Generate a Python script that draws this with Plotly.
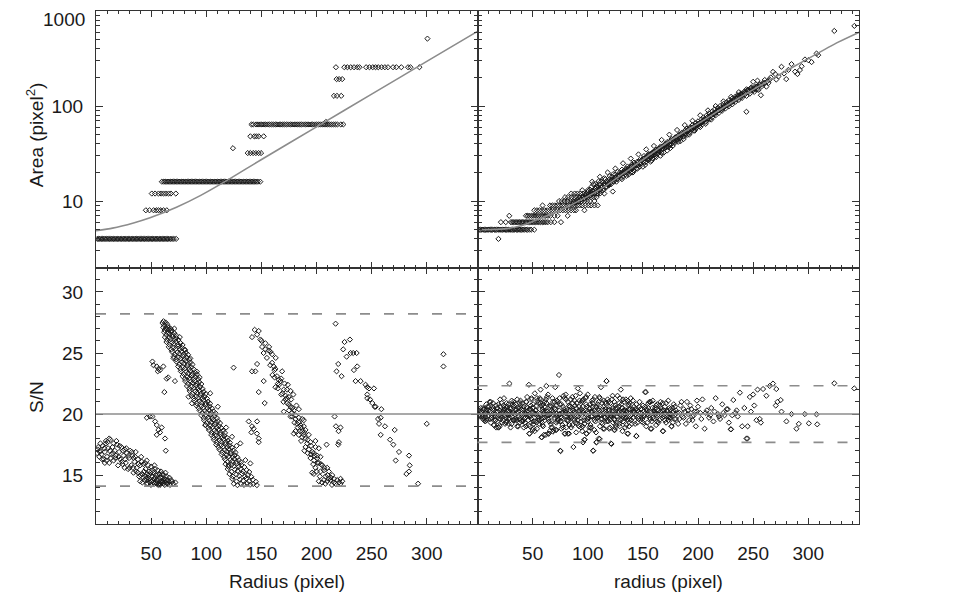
import plotly.graph_objects as go
from plotly.subplots import make_subplots

# ---------------- top-left: Area vs Radius (pixel areas come in steps)
TL_LEVELS = [4, 8, 12, 16, 32, 48, 64, 128, 192, 256]
TL_R_AT_4 = [1.2, 2.5, 3.6, 4.9, 6.1, 7.3, 8.4, 9.8, 11.0, 12.2, 13.5, 14.6, 15.9, 17.1, 18.3,
             19.6, 20.7, 22.0, 23.2, 24.5, 25.6, 26.9, 28.1, 29.4, 30.5, 31.8, 33.0, 34.3, 35.5,
             36.6, 37.9, 39.1, 40.4, 41.5, 42.8, 44.0, 45.3, 46.4, 47.7, 48.9, 50.2, 51.3, 52.6,
             53.8, 55.1, 56.2, 57.5, 58.7, 60.0, 61.1, 62.4, 63.6, 64.8, 66.1, 67.5, 69.0, 70.6, 72.7]
TL_R_AT_8 = [45.2, 48.5, 52.2, 54.6, 56.7, 58.8, 61.2, 64.2]
TL_R_AT_12 = [50.6, 53.6, 56.7, 59.1, 61.2, 63.3, 65.8, 67.9, 72.4]
TL_R_AT_16 = [59.7, 61.5, 62.8, 64.0, 65.3, 66.5, 67.8, 69.0, 70.3, 71.5, 72.8, 74.0, 75.3, 76.5,
              77.8, 79.0, 80.3, 81.5, 82.8, 84.0, 85.3, 86.5, 87.8, 89.0, 90.3, 91.5, 92.8, 94.0,
              95.3, 96.5, 97.8, 99.0, 100.3, 101.5, 102.8, 104.0, 105.3, 106.5, 107.8, 109.0, 110.3,
              111.5, 112.8, 114.0, 115.3, 116.5, 117.8, 119.0, 120.3, 121.5, 122.8, 124.0, 125.3,
              126.5, 127.8, 129.0, 130.3, 131.5, 132.8, 134.0, 135.3, 136.5, 137.8, 139.0, 140.3,
              141.5, 142.8, 144.0, 145.3, 146.8, 149.0]
TL_R_AT_32 = [137.6, 140.0, 142.5, 145.0, 147.5, 149.7]
TL_R_AT_48 = [140.0, 143.6, 145.5, 147.6, 152.1]
TL_R_AT_64 = [141.0, 142.6, 145.2, 147.0, 148.9, 150.5, 152.3, 154.0, 155.8, 157.4, 159.1, 160.9,
              162.6, 164.2, 166.0, 167.7, 169.3, 171.1, 172.8, 174.5, 176.2, 177.9, 179.6, 181.3,
              183.0, 184.8, 186.4, 188.1, 189.9, 191.5, 193.2, 195.0, 196.6, 198.3, 200.1, 201.8,
              203.4, 205.2, 206.9, 208.5, 210.2, 212.0, 213.6, 215.3, 217.1, 219.0, 222.0, 224.3]
TL_R_AT_128 = [215.8, 218.5, 222.4]
TL_R_AT_192 = [218.2, 220.5, 223.3]
TL_R_AT_256 = [217.6, 225.2, 228.0, 231.0, 234.0, 237.0, 239.0, 245.0, 248.0, 251.0, 253.5,
               256.0, 259.0, 262.0, 264.8, 269.4, 272.4, 276.9, 283.0, 285.2, 293.3]
TL_ODD_R = [124.2, 208.5, 300.6]
TL_ODD_A = [36, 68, 512]
TL_FIT_R = [0, 15, 34, 49, 73, 95, 120, 149, 200, 250, 300, 346]
TL_FIT_A = [4.88, 5.19, 5.89, 6.68, 8.61, 11.48, 16.79, 26.9, 60.3, 133.4, 295, 611]

# ---------------- top-right: area vs radius after correction
TR_LEVELS = [5, 6, 7, 8, 9, 10, 11, 12]
TR_R_AT_5 = [1.5, 2.8, 4.1, 5.0, 6.3, 7.4, 8.2, 9.6, 10.5, 11.9, 12.7, 13.8, 15.2, 16.0, 17.3,
             18.5, 19.4, 20.8, 21.6, 22.9, 24.0, 25.3, 26.1, 27.5, 28.4, 29.7, 30.6, 31.8, 33.1,
             34.0, 35.4, 36.3, 37.7, 38.6, 40.0, 41.2, 42.5, 44.0, 45.3, 47.1, 48.6, 51.5]
TR_R_AT_6 = [21.2, 25.6, 30.3, 31.5, 32.9, 34.2, 35.6, 36.8, 38.1, 39.5, 40.7, 42.0, 43.4, 44.6,
             45.9, 47.3, 48.5, 50.0, 51.2, 52.6, 54.0, 55.5, 57.0, 58.8, 60.3, 62.0, 63.8, 66.5,
             69.7, 75.7]
TR_R_AT_7 = [28.8, 44.0, 45.6, 47.2, 48.9, 50.5, 52.1, 53.8, 55.4, 57.1, 58.7, 60.4, 62.0, 63.9,
             66.2, 69.7, 72.7, 81.8]
TR_R_AT_8 = [51.5, 53.9, 56.2, 58.5, 60.9, 63.2, 65.6, 67.9, 70.3, 72.6, 75.0, 77.4, 79.8, 82.3,
             84.9, 87.4, 89.3, 97.0]
TR_R_AT_9 = [59.0, 65.8, 67.9, 70.1, 72.4, 74.6, 76.9, 79.1, 81.4, 83.6, 85.9, 88.1, 90.4, 92.6,
             94.9, 97.8, 100.6, 103.0, 106.0, 109.0]
TR_R_AT_10 = [74.0, 76.5, 79.0, 81.6, 84.1, 86.7, 89.2, 91.8, 94.3, 96.9, 99.4, 102.0, 106.0]
TR_R_AT_11 = [79.4, 82.0, 85.1, 87.6, 90.2, 92.7, 95.3, 97.8, 100.4, 102.9, 105.6, 108.0]
TR_R_AT_12 = [85.0, 88.1, 90.6, 93.2, 95.7, 98.3, 100.8, 103.4, 106.0, 108.5, 111.1, 115.0]
TR_BAND = [(95, 13), (100, 13), (103, 14), (106, 13), (107, 15), (108, 14), (110, 13), (111, 15),
           (112, 16), (113, 14), (115, 15), (116, 17), (117, 14), (118, 16), (120, 17), (121, 15),
           (122, 18), (124, 17), (125, 19), (126, 16), (128, 18), (129, 20), (130, 19), (131, 17),
           (133, 21), (134, 19), (135, 22), (136, 20), (138, 21), (139, 23), (140, 22), (141, 20),
           (143, 24), (144, 22), (145, 26), (146, 24), (148, 25), (149, 27), (150, 23), (151, 28),
           (153, 26), (154, 29), (155, 27), (156, 31), (158, 30), (159, 28), (160, 33), (161, 31),
           (163, 34), (164, 32), (165, 36), (166, 30), (168, 35), (169, 38), (170, 36), (171, 40),
           (173, 37), (174, 42), (175, 39), (176, 45), (178, 43), (179, 41), (180, 47), (181, 44),
           (183, 50), (184, 46), (185, 52), (186, 48), (188, 55), (189, 51), (190, 58), (191, 54),
           (193, 60), (194, 56), (195, 63), (196, 59), (198, 66), (199, 62), (200, 69), (201, 64),
           (203, 72), (204, 68), (205, 76), (206, 71), (208, 80), (209, 74), (210, 84), (211, 78),
           (213, 88), (214, 82), (215, 92), (216, 86), (218, 96), (219, 90), (220, 100), (222, 94),
           (223, 105), (224, 98), (226, 110), (227, 102), (228, 115), (230, 108), (231, 120),
           (232, 112), (234, 126), (235, 118), (236, 130), (238, 122), (239, 136), (240, 128),
           (242, 142), (243, 134), (245, 148), (246, 140), (248, 155), (250, 146), (252, 160),
           (254, 150), (256, 170), (258, 162),
           (109, 12), (114, 13), (119, 15), (123, 16), (127, 17), (132, 18), (137, 19), (142, 21),
           (147, 23), (152, 24), (157, 26), (162, 29), (167, 32), (172, 34), (177, 38), (182, 42),
           (187, 45), (192, 50), (197, 55), (202, 60), (207, 65), (212, 72),
           (104, 16), (111, 18), (118, 20), (125, 22), (132, 25), (139, 28), (146, 31), (153, 35),
           (160, 38), (167, 44), (174, 50), (181, 56), (188, 63), (195, 70), (202, 80), (209, 90),
           (216, 100), (223, 112), (230, 125), (237, 140), (244, 150)]
TR_CORE = [(86, 9.4), (87, 9.8), (89, 9.6), (91, 10.3), (92, 9.9), (93, 10.8), (94, 10.4), (96, 11.1),
           (97, 10.7), (98, 11.6), (99, 11.0), (101, 11.8), (102, 11.4), (103, 12.3), (104, 11.9),
           (105, 12.6), (106, 12.1), (108, 13.0), (109, 12.6), (110, 13.6), (111, 13.1), (113, 14.1),
           (114, 13.5), (115, 14.6), (116, 14.0), (118, 15.2), (119, 14.6), (120, 15.9), (121, 16.4),
           (123, 16.9), (124, 16.2), (126, 17.8), (127, 17.2), (129, 18.6), (130, 19.4), (132, 19.9),
           (133, 20.6), (134, 20.1), (136, 21.4), (137, 22.2), (138, 20.8), (140, 23.0), (141, 23.8),
           (143, 24.6), (144, 23.9), (146, 25.8), (147, 25.2), (149, 26.9), (150, 27.8), (152, 28.6),
           (153, 27.9), (155, 30.0), (156, 29.2), (157, 31.0), (158, 31.8), (160, 32.9), (161, 32.2),
           (163, 34.6), (164, 33.8), (165, 35.7), (167, 36.9), (168, 36.1), (170, 38.8), (171, 38.0),
           (173, 40.7), (174, 39.8), (175, 42.5), (177, 44.1), (178, 43.0), (180, 46.2), (181, 45.3),
           (183, 48.5), (184, 47.3), (185, 50.0), (187, 52.1), (188, 51.0), (190, 54.6), (191, 55.8),
           (193, 57.7), (194, 56.5), (196, 60.6), (197, 59.5), (199, 63.4), (200, 64.9), (202, 67.1),
           (203, 66.0), (205, 70.4), (206, 72.2), (208, 74.9), (209, 73.7), (211, 78.5), (212, 80.4),
           (214, 83.2), (215, 81.7), (217, 87.3), (218, 89.5), (220, 92.0), (221, 90.6), (223, 96.8),
           (224, 99.1), (226, 102), (227, 105), (229, 108), (230, 111), (232, 114), (233, 117),
           (235, 121), (236, 124), (238, 127), (240, 131), (241, 134), (243, 138), (245, 143),
           (246, 146), (248, 151), (250, 149), (252, 156), (254, 162), (256, 166), (258, 170),
           (260, 176), (263, 183), (265, 190),
           (100, 12.5), (102, 13.2), (104, 12.8), (105, 15.1), (107, 13.6), (109, 14.4), (110, 16.2),
           (112, 13.9), (114, 15.8), (115, 17.4), (117, 16.1), (119, 14.9), (120, 18.3), (122, 16.6),
           (123, 19.2), (125, 17.6), (127, 20.3), (128, 18.7), (130, 17.5), (131, 21.4), (133, 19.6),
           (135, 18.4), (136, 23.1), (137, 21.2), (139, 19.9), (140, 24.3), (141, 22.6), (142, 25.4),
           (144, 23.6), (145, 21.9), (147, 27.0), (148, 24.7), (150, 26.1), (151, 29.8), (152, 25.6),
           (154, 27.6), (155, 31.2), (157, 28.9), (158, 26.7), (159, 32.6), (161, 29.6), (162, 34.8),
           (163, 31.3), (165, 33.2), (166, 37.5), (167, 34.6), (169, 32.4), (170, 39.6), (171, 36.8),
           (172, 41.8), (174, 38.9), (175, 36.2), (176, 43.4), (177, 40.7), (179, 46.5), (180, 43.2),
           (182, 48.8), (183, 45.1), (184, 42.6), (186, 51.3), (187, 47.8), (189, 53.9), (190, 49.6),
           (191, 56.4), (193, 52.7), (194, 58.9), (196, 55.3), (197, 61.8), (198, 57.9), (200, 64.4),
           (201, 61.3), (203, 67.8), (204, 64.1), (206, 73.5), (207, 68.6), (209, 77.2), (210, 71.8),
           (212, 80.6), (213, 76.3), (215, 85.4), (216, 79.9), (218, 90.2), (219, 84.7), (221, 95.8),
           (222, 89.6), (224, 101), (225, 94.6), (227, 106), (228, 99.3), (230, 113), (231, 104),
           (233, 119), (234, 111), (236, 125), (237, 116), (239, 132), (240, 122), (242, 138),
           (244, 128), (245, 145), (247, 135), (249, 150), (251, 141), (253, 158), (255, 148)]
TR_SPARSE = [(19, 4), (122.7, 12.6), (243.9, 87), (257, 130), (248.4, 157), (252.4, 150), (253.9, 185),
             (250, 180), (260.5, 188), (260, 172), (262, 160), (264, 175), (266, 200), (268, 229),
             (270, 217), (271, 190), (273, 205), (275.7, 259), (278, 220), (280, 192), (282, 240),
             (284.8, 276), (288, 230), (290.2, 217), (292.4, 239), (294, 262), (297, 309),
             (300, 304), (303, 290), (307.5, 357), (309, 343), (323.6, 617), (341.8, 697)]
TR_FIT_R = [1.5, 24.2, 39.4, 54.5, 69.7, 84.8, 100.0, 115.1, 145.4, 175.7, 206.0, 236.3, 266.6,
            297.0, 327.2, 346.9]
TR_FIT_A = [5.0, 5.1, 5.5, 6.4, 7.5, 9.1, 11.2, 14.2, 25, 44, 72, 120, 192, 302, 470, 603]

# ---------------- bottom-left: S/N vs Radius
BL_MEAN = 20.0
BL_LIMITS = [28.2, 14.1]
BL_BAND_A = [(1, 16.8), (2, 17.3), (3, 16.5), (4, 17.0), (5, 16.7), (6, 17.4), (7, 16.3), (8, 16.9),
             (9, 17.6), (10, 16.5), (11, 17.2), (12, 16.0), (13, 17.9), (14, 16.7), (15, 17.3),
             (16, 16.2), (17, 17.0), (18, 16.6), (19, 17.5), (20, 15.8), (21, 16.9), (22, 16.3),
             (23, 17.3), (24, 15.9), (25, 16.6), (26, 17.1), (27, 16.0), (28, 16.8), (29, 15.5),
             (30, 16.4), (31, 17.0), (32, 15.8), (33, 16.6), (34, 15.2), (35, 16.1), (36, 16.9),
             (37, 15.6), (38, 16.3), (39, 14.9), (40, 15.8), (41, 16.5), (42, 15.1), (43, 15.9),
             (44, 14.6), (45, 15.5), (46, 16.2), (47, 14.8), (48, 15.3), (49, 14.4), (50, 15.7),
             (51, 14.9), (52, 15.2), (53, 14.3), (54, 15.0), (55, 14.6), (56, 15.4), (57, 14.3),
             (58, 14.8), (59, 14.5), (60, 15.1), (61, 14.3), (62, 14.7), (63, 14.4), (64, 14.9),
             (65, 14.3), (66, 14.5), (67, 14.2), (68, 14.6), (70, 14.3), (72, 14.4),
             (1.5, 17.1), (3.5, 16.9), (5.5, 16.3), (7.5, 17.2), (9.5, 16.2), (10.5, 17.7),
             (12.5, 17.0), (13.5, 16.4), (15.5, 16.8), (17.5, 16.4), (18.5, 17.8), (20.5, 16.5),
             (21.5, 17.4), (23.5, 16.1), (24.5, 17.0), (26.5, 16.3), (27.5, 17.2), (29.5, 16.6),
             (30.5, 15.6), (32.5, 16.9), (33.5, 15.6), (35.5, 16.5), (36.5, 15.3), (38.5, 15.9),
             (40.5, 15.0), (41.5, 16.1), (43.5, 15.3), (44.5, 16.0), (45.5, 14.7), (46.5, 15.1),
             (47.5, 15.8), (48.5, 14.7), (49.5, 15.2), (50.5, 14.5), (51.5, 15.4), (52.5, 14.7),
             (53.5, 15.5), (54.5, 14.4), (55.5, 15.0), (56.5, 14.2), (57.5, 15.1), (58.5, 14.3),
             (59.5, 14.8), (60.5, 14.5), (61.5, 15.0), (62.5, 14.2), (63.5, 14.6), (64.5, 14.3),
             (66.5, 14.8), (69, 14.5), (42, 14.4), (46, 14.3), (50, 14.2), (54, 14.8), (38, 15.2),
             (34, 16.4), (26, 15.6), (16, 17.6), (8, 16.0), (4, 17.6), (12, 18.0), (9, 17.8),
             (40, 14.5), (43, 14.8), (47, 14.3), (51, 14.6), (53, 15.8), (55, 14.3), (57, 14.7),
             (59, 15.3), (61, 14.6), (63, 15.2), (65, 14.6), (45, 14.9), (48, 15.0), (52, 14.4),
             (58, 14.2), (60, 14.4)]
BL_BAND_B_EDGE = [(61.2, 27.6), (71.1, 27.0), (80.9, 25.25), (85.5, 24.56), (91.5, 23.47), (83.9, 21.42),
                  (87.0, 20.88), (123.4, 18.14), (130.9, 17.6), (135.5, 16.23), (140.0, 15.96),
                  (120.3, 15.82), (70.3, 24.56), (103.6, 21.7), (94.0, 23.0), (110.5, 20.6),
                  (118.0, 18.9), (99.0, 19.1), (76.0, 26.3), (127.5, 17.4)]
BL_BAND_B_WIDE = [
    (60.3, 27.45), (61.8, 27.3), (63.1, 27.5), (64.6, 27.35),
    (61.0, 27.1), (62.2, 26.88), (63.4, 27.05), (64.4, 26.94), (65.4, 27.13), (66.4, 26.9), (67.4, 27.02),
    (68.6, 26.86),
    (61.8, 26.7), (63.7, 26.48), (65.35, 26.65), (66.7, 26.54), (68.1, 26.73), (69.5, 26.5), (71.1, 26.62),
    (72.5, 26.46),
    (62.5, 26.3), (64.45, 26.08), (66.4, 26.25), (68.0, 26.14), (69.65, 26.33), (71.3, 26.1), (72.9, 26.22),
    (74.85, 26.06),
    (63.9, 25.9), (66.5, 25.68), (68.75, 25.85), (70.6, 25.74), (72.5, 25.93), (74.4, 25.7), (76.6, 25.82),
    (78.5, 25.66),
    (66.0, 25.5), (68.25, 25.28), (70.5, 25.45), (72.4, 25.34), (74.25, 25.53), (76.1, 25.3), (78.0, 25.42),
    (80.25, 25.26),
    (68.9, 25.1), (71.5, 24.88), (73.75, 25.05), (75.6, 24.94), (77.5, 25.13), (79.4, 24.9), (81.6, 25.02),
    (83.5, 24.86),
    (70.5, 24.7), (72.75, 24.48), (75.0, 24.65), (76.9, 24.54), (78.75, 24.73), (80.6, 24.5), (82.5, 24.62),
    (84.75, 24.46),
    (72.9, 24.3), (75.5, 24.08), (77.75, 24.25), (79.6, 24.14), (81.5, 24.33), (83.4, 24.1), (85.6, 24.22),
    (87.5, 24.06),
    (74.5, 23.9), (76.75, 23.68), (79.0, 23.85), (80.9, 23.74), (82.75, 23.93), (84.6, 23.7), (86.5, 23.82),
    (88.75, 23.66),
    (76.9, 23.5), (79.5, 23.28), (81.75, 23.45), (83.6, 23.34), (85.5, 23.53), (87.4, 23.3), (89.6, 23.42),
    (91.5, 23.26),
    (78.5, 23.1), (80.75, 22.88), (83.0, 23.05), (84.9, 22.94), (86.75, 23.13), (88.6, 22.9), (90.5, 23.02),
    (92.75, 22.86),
    (80.9, 22.7), (83.5, 22.48), (85.75, 22.65), (87.6, 22.54), (89.5, 22.73), (91.4, 22.5), (93.6, 22.62),
    (95.5, 22.46),
    (82.5, 22.3), (84.75, 22.08), (87.0, 22.25), (88.9, 22.14), (90.75, 22.33), (92.6, 22.1), (94.5, 22.22),
    (96.75, 22.06),
    (84.9, 21.9), (87.5, 21.68), (89.75, 21.85), (91.6, 21.74), (93.5, 21.93), (95.4, 21.7), (97.6, 21.82),
    (99.5, 21.66),
    (86.5, 21.5), (88.75, 21.28), (91.0, 21.45), (92.9, 21.34), (94.75, 21.53), (96.6, 21.3), (98.5, 21.42),
    (100.75, 21.26),
    (88.9, 21.1), (91.5, 20.88), (93.75, 21.05), (95.6, 20.94), (97.5, 21.13), (99.4, 20.9), (101.6, 21.02),
    (103.5, 20.86),
    (91.0, 20.7), (93.25, 20.48), (95.5, 20.65), (97.4, 20.54), (99.25, 20.73), (101.1, 20.5), (103.0, 20.62),
    (105.25, 20.46),
    (93.9, 20.3), (96.5, 20.08), (98.75, 20.25), (100.6, 20.14), (102.5, 20.33), (104.4, 20.1), (106.6, 20.22),
    (108.5, 20.06),
    (95.5, 19.9), (97.75, 19.68), (100.0, 19.85), (101.9, 19.74), (103.75, 19.93), (105.6, 19.7), (107.5, 19.82),
    (109.75, 19.66),
    (97.9, 19.5), (100.5, 19.28), (102.75, 19.45), (104.6, 19.34), (106.5, 19.53), (108.4, 19.3), (110.6, 19.42),
    (112.5, 19.26),
    (99.5, 19.1), (101.75, 18.88), (104.0, 19.05), (105.9, 18.94), (107.75, 19.13), (109.6, 18.9), (111.5, 19.02),
    (113.75, 18.86),
    (102.4, 18.7), (105.0, 18.48), (107.25, 18.65), (109.1, 18.54), (111.0, 18.73), (112.9, 18.5), (115.1, 18.62),
    (117.0, 18.46),
    (104.5, 18.3), (106.75, 18.08), (109.0, 18.25), (110.9, 18.14), (112.75, 18.33), (114.6, 18.1), (116.5, 18.22),
    (118.75, 18.06),
    (106.9, 17.9), (109.5, 17.68), (111.75, 17.85), (113.6, 17.74), (115.5, 17.93), (117.4, 17.7), (119.6, 17.82),
    (121.5, 17.66),
    (109.0, 17.5), (111.25, 17.28), (113.5, 17.45), (115.4, 17.34), (117.25, 17.53), (119.1, 17.3), (121.0, 17.42),
    (123.25, 17.26),
    (111.9, 17.1), (114.5, 16.88), (116.75, 17.05), (118.6, 16.94), (120.5, 17.13), (122.4, 16.9), (124.6, 17.02),
    (126.5, 16.86),
    (114.0, 16.7), (116.25, 16.48), (118.5, 16.65), (120.4, 16.54), (122.25, 16.73), (124.1, 16.5), (126.0, 16.62),
    (128.25, 16.46),
    (116.9, 16.3), (119.5, 16.08), (121.75, 16.25), (123.6, 16.14), (125.5, 16.33), (127.4, 16.1), (129.6, 16.22),
    (131.5, 16.06),
    (117.5, 15.9), (120.2, 15.68), (122.9, 15.85), (125.15, 15.74), (127.4, 15.93), (129.65, 15.7), (131.9, 15.82),
    (134.6, 15.66),
    (119.5, 15.5), (123.0, 15.28), (126.0, 15.45), (128.5, 15.34), (131.0, 15.53), (133.5, 15.3), (136.5, 15.42),
    (139.0, 15.26),
    (121.0, 15.1), (124.15, 14.88), (127.3, 15.05), (129.9, 14.94), (132.55, 15.13), (135.2, 14.9), (137.8, 15.02),
    (140.95, 14.86),
    (123.55, 14.7), (127.4, 14.48), (130.7, 14.65), (133.45, 14.54), (136.2, 14.73), (138.95, 14.5),
    (142.25, 14.62), (145.0, 14.46),
    (125.0, 14.3), (128.3, 14.18), (131.6, 14.28), (134.35, 14.2), (137.1, 14.32), (139.85, 14.22),
    (142.6, 14.27), (145.9, 14.18)]
BL_BAND_F = [(158.2, 25.1), (159.7, 24.2), (161.2, 23.9), (161.8, 23.6), (162.7, 23.7), (164.2, 23.1),
             (165.8, 22.8), (167.3, 22.7), (168.8, 23.5), (162.7, 22.2), (164.9, 22.1), (170.3, 22.0),
             (173.3, 22.0), (176.4, 21.9), (174.9, 21.4), (171.8, 21.2), (173.3, 20.9), (176.4, 20.6),
             (179.4, 20.3), (181.8, 20.7), (170.3, 20.2), (177.9, 20.1), (176.4, 19.8), (180.9, 19.6),
             (183.9, 19.7), (187.0, 19.6), (188.5, 19.5), (182.4, 19.2), (185.5, 19.1), (188.5, 19.0),
             (190.0, 18.7), (180.9, 18.6), (179.4, 18.4), (183.9, 18.3), (187.0, 18.1), (188.5, 18.3),
             (190.0, 18.0), (191.5, 17.6), (194.5, 17.7), (199.1, 17.3), (202.1, 17.2), (193.0, 17.1),
             (196.1, 16.9), (197.6, 16.8), (200.6, 16.6), (194.5, 16.4), (197.6, 16.2), (200.6, 16.4),
             (203.6, 16.5), (202.1, 16.0), (205.2, 15.8), (199.1, 15.6), (206.7, 15.4), (209.7, 15.6),
             (203.6, 15.3), (211.2, 15.3), (197.6, 15.1), (214.2, 15.0), (208.2, 14.9), (206.7, 14.6),
             (209.7, 14.5), (212.7, 14.6), (215.8, 14.4), (218.8, 14.6), (220.3, 14.4), (221.8, 14.3),
             (223.3, 14.5), (202.1, 14.5), (215.8, 14.7), (221.8, 14.7),
             (141.5, 26.3), (143.9, 26.9), (147.6, 26.8), (146.1, 26.5), (149.1, 26.1), (150.6, 25.5),
             (153.6, 25.3), (156.7, 25.2), (153.6, 25.8), (159.7, 24.9), (152.1, 22.7), (147.6, 21.8),
             (153.0, 20.9), (141.5, 23.5), (144.5, 23.5), (146.1, 24.1), (124.8, 23.8),
             (166, 22.4), (169, 21.7), (172, 21.5), (175, 20.8), (178, 20.5), (181, 19.9), (184, 19.3),
             (186, 18.9), (189, 18.5), (192, 17.9), (195, 17.4), (198, 16.6), (201, 16.0), (204, 15.9),
             (207, 15.6), (210, 15.0), (213, 14.8), (217, 14.3), (177, 21.2), (171, 22.5), (163, 24.6),
             (157, 25.5),
             (150, 26.0), (152, 25.0), (155, 24.6), (158, 24.0), (160, 23.2), (162, 23.0), (165, 22.5),
             (168, 21.6), (170, 21.0), (173, 21.3), (175, 20.3), (178, 19.8), (180, 19.3), (183, 18.9),
             (185, 18.6), (187, 18.6), (190, 17.3), (192, 16.8), (195, 16.7), (197, 15.9), (200, 15.3),
             (203, 14.9), (205, 14.4), (208, 14.3), (211, 14.7), (214, 14.2), (184, 20.4), (186, 17.8),
             (189, 17.0), (196, 15.2), (174, 22.4), (179, 21.6), (168, 22.9), (193, 18.3), (199, 17.8)]
BL_SPARSE = [(51.2, 24.3), (52.1, 24.0), (55.1, 23.9), (56.6, 23.7), (58.1, 23.6), (61.1, 23.9),
             (64.1, 22.9), (65.5, 23.0), (71.6, 22.7), (62.0, 21.8), (56.0, 23.5),
             (46.1, 19.7), (49.1, 19.8), (51.2, 19.8), (53.6, 19.4), (55.1, 19.1), (56.6, 18.7),
             (55.1, 18.3), (58.1, 18.5), (59.6, 18.9), (62.6, 18.0), (63.3, 17.0),
             (138.5, 19.4), (141.5, 19.0), (140.9, 18.5), (147.6, 18.0), (146.1, 19.4), (143.0, 18.8),
             (146.0, 18.4), (147.6, 17.7),
             (217.3, 27.4), (225.4, 25.9), (230.3, 26.1), (224.2, 25.3), (227.3, 24.7), (230.9, 25.0),
             (233.3, 25.0), (236.4, 25.0), (233.9, 23.6), (236.9, 23.9), (219.7, 24.1), (218.2, 23.5),
             (222.7, 23.1), (235.4, 22.7), (240.0, 22.7), (244.5, 22.4), (246.0, 22.2), (247.6, 22.1),
             (252.1, 22.1), (246.0, 21.6), (246.0, 21.3), (248.5, 21.2), (250.6, 20.9), (252.7, 20.6),
             (253.6, 20.6), (258.8, 20.4), (258.2, 19.7), (255.8, 19.6), (256.7, 19.2), (262.1, 19.0),
             (270.9, 18.7), (258.2, 18.3), (266.7, 17.9), (269.7, 17.5), (274.8, 16.9), (271.8, 16.2),
             (283.9, 16.6), (284.5, 15.8), (283.9, 15.3), (281.5, 15.1), (292.1, 14.3), (300.0, 19.2),
             (315.1, 24.9), (315.1, 23.9), (216.4, 19.8), (217.6, 19.0), (221.8, 18.9), (220.0, 18.6),
             (220.3, 17.7), (219.7, 17.5), (209.1, 17.5)]

# ---------------- bottom-right: S/N vs radius after correction
BR_MEAN = 20.0
BR_LIMITS = [22.32, 17.68]
BR_CORE = [(1, 20.3), (2, 19.8), (3, 20.5), (4, 20.0), (5, 19.6), (6, 20.4), (7, 20.1), (8, 19.5),
           (9, 20.6), (10, 19.9), (11, 20.2), (12, 21.0), (13, 19.7), (14, 20.4), (15, 19.1), (16, 20.0),
           (17, 20.7), (18, 19.4), (19, 18.9), (20, 20.3), (21, 19.8), (22, 20.9), (23, 19.5), (24, 20.1),
           (25, 20.6), (26, 19.3), (27, 20.0), (28, 20.8), (29, 19.7), (30, 20.4), (31, 19.2), (32, 20.1),
           (33, 20.7), (34, 19.6), (35, 20.3), (36, 19.0), (37, 20.5), (38, 19.8), (39, 21.1), (40, 20.0),
           (1.5, 19.9), (3.5, 20.2), (6.5, 19.7), (8.5, 20.4), (11.5, 19.6), (13.5, 20.6), (16.5, 19.5),
           (18.5, 20.2), (20.5, 21.2), (22.5, 19.3), (24.5, 20.4), (26.5, 20.9), (28.5, 19.2), (30.5, 20.0),
           (32.5, 19.5), (34.5, 20.8), (36.5, 20.2), (38.5, 19.3),
           (41, 19.4), (42, 20.6), (43, 20.1), (44, 19.0), (45, 21.4), (46, 20.3), (47, 18.4), (48, 19.8),
           (49, 21.3), (50, 20.5), (51, 19.2), (52, 21.7), (53, 20.0), (54, 18.8), (55, 20.9), (56, 19.5),
           (57, 21.2), (58, 18.1), (59, 20.4), (60, 19.7), (61, 21.0), (62, 18.3), (63, 20.2), (64, 21.6),
           (65, 19.4), (66, 20.7), (67, 18.9), (68, 21.3), (69, 19.9), (70, 20.5), (71, 18.7), (72, 21.1),
           (73, 19.6), (74, 20.3), (75, 17.0), (76, 20.8), (77, 19.1), (78, 21.5), (79, 18.4), (80, 20.1),
           (81, 19.5), (82, 21.0), (83, 18.4), (84, 20.6), (85, 19.8), (86, 21.4), (87, 17.3), (88, 20.2),
           (89, 19.3), (90, 20.9), (91, 22.1), (92, 19.0), (93, 21.7), (94, 20.4), (95, 18.6), (96, 21.2),
           (97, 17.9), (98, 20.0), (99, 18.4), (100, 21.6), (101, 19.7), (102, 20.5), (103, 18.9),
           (104, 21.1), (105, 17.0), (106, 20.3), (107, 19.4), (108, 17.7), (109, 20.8), (110, 18.0),
           (111, 21.3), (112, 22.2), (113, 19.6), (114, 20.6), (115, 18.8), (116, 21.0), (117, 22.7),
           (118, 19.9), (119, 20.4), (120, 18.9), (121, 17.6), (122, 21.2), (123, 19.3), (124, 18.7),
           (125, 20.7), (126, 19.8), (127, 21.5), (128, 20.1), (129, 19.0), (130, 22.0), (131, 20.5),
           (132, 19.4), (133, 21.0), (134, 18.9), (135, 20.2), (136, 18.4), (137, 20.8), (138, 19.6),
           (139, 21.3), (140, 20.0),
           (40.5, 20.9), (42.5, 19.6), (44.5, 20.2), (46.5, 19.1), (48.5, 20.7), (50.5, 19.4), (52.5, 20.3),
           (54.5, 21.1), (56.5, 20.0), (58.5, 19.3), (60.5, 20.6), (62.5, 19.8), (64.5, 18.4), (66.5, 19.2),
           (68.5, 20.1), (70.5, 22.2), (72.5, 19.4), (74.5, 21.3), (76.5, 19.7), (78.5, 20.4), (80.5, 18.9),
           (82.5, 20.0), (84.5, 21.2), (86.5, 19.6), (88.5, 20.7), (90.5, 19.2), (92.5, 20.3), (94.5, 21.0),
           (96.5, 19.5), (98.5, 20.8), (100.5, 20.2), (102.5, 19.1), (104.5, 20.6), (106.5, 21.4),
           (108.5, 19.7), (110.5, 20.1), (112.5, 19.3), (114.5, 21.1), (116.5, 20.0), (118.5, 19.4),
           (120.5, 20.9), (122.5, 20.2), (124.5, 19.5), (126.5, 20.5), (128.5, 19.2), (130.5, 20.8),
           (132.5, 20.3), (134.5, 19.7), (136.5, 21.1), (138.5, 20.4),
           (43.5, 20.0), (47.5, 19.9), (51.5, 20.1), (55.5, 19.7), (59.5, 20.2), (63.5, 19.9), (67.5, 20.3),
           (71.5, 20.0), (75.5, 19.8), (79.5, 20.2), (83.5, 19.9), (87.5, 20.1), (91.5, 19.8), (95.5, 20.3),
           (99.5, 19.6), (103.5, 20.2), (107.5, 19.9), (111.5, 20.0), (115.5, 19.7), (119.5, 20.3),
           (123.5, 19.9), (127.5, 20.1), (131.5, 19.8), (135.5, 20.2), (139.5, 19.5),
           (141, 19.7), (142, 20.6), (143, 19.2), (144, 18.2), (145, 20.3), (146, 19.8), (147, 21.0),
           (148, 20.1), (149, 19.4), (150, 20.7), (151, 19.9), (152, 21.8), (153, 20.4), (154, 19.3),
           (155, 20.9), (156, 19.7), (157, 18.8), (158, 20.2), (159, 21.1), (160, 19.6), (161, 20.5),
           (162, 19.1), (163, 20.8), (164, 20.0), (165, 19.5), (166, 21.0), (167, 20.3), (168, 18.6),
           (169, 19.8), (170, 20.6), (171, 19.3), (172, 20.2), (173, 21.1), (174, 19.7), (175, 20.4),
           (176, 19.0), (177, 20.1), (178, 20.8), (179, 19.6), (180, 20.3), (182, 19.2), (184, 20.7),
           (186, 19.8), (188, 20.2), (190, 21.0), (192, 19.5), (194, 20.4), (196, 19.9), (198, 19.0),
           (200, 20.6), (202, 20.1), (204, 21.2), (206, 18.8), (208, 20.3), (210, 19.7), (212, 20.5),
           (214, 19.4), (216, 21.3), (218, 20.0), (220, 19.6), (222, 20.8), (224, 19.9), (226, 20.4),
           (228, 19.3), (230, 18.75), (232, 21.15), (234, 20.1), (236, 19.8), (238, 21.75), (240, 19.0),
           (242, 20.5), (244, 18.0), (245, 19.0), (247, 21.4), (248, 20.2), (250, 21.6), (251, 20.7),
           (253, 19.5), (254, 22.0), (256, 19.6), (257, 19.3), (259, 22.05),
           (140.5, 20.4), (143.5, 20.0), (146.5, 20.2), (149.5, 19.6), (152.5, 20.1), (155.5, 19.9),
           (158.5, 20.5), (161.5, 20.0), (164.5, 20.3), (167.5, 19.7), (170.5, 20.1), (173.5, 19.8),
           (176.5, 20.5), (179.5, 20.0), (183, 20.1), (187, 19.7), (191, 20.3), (195, 19.8), (199, 20.2),
           (203, 19.6), (207, 20.1), (211, 19.9), (215, 20.2), (219, 19.8), (223, 20.1), (227, 20.4),
           (231, 19.9), (235, 20.3)]
BR_EXTRA = [(5, 20.5), (7, 19.4), (9, 20.1), (11, 21.0), (13, 19.7), (15, 20.3), (17, 18.9), (19, 20.8),
            (21, 19.9), (23, 20.2), (25, 19.2), (27, 20.6), (29, 20.0), (31, 21.1), (33, 19.5), (35, 20.4),
            (37, 19.0), (39, 20.7), (41, 20.1), (43, 19.3), (45, 20.5), (47, 19.8), (49, 21.2), (51, 18.8),
            (53, 20.3), (55, 19.6), (57, 20.9), (59, 19.1), (61, 20.2), (63, 21.4), (65, 19.9), (67, 20.6),
            (69, 18.7), (71, 20.4), (73, 21.0), (75, 19.4), (77, 20.1), (79, 21.3), (81, 19.8), (83, 20.7),
            (85, 18.9), (87, 20.3), (89, 21.5), (91, 19.5), (93, 20.0), (95, 21.1), (97, 19.2), (99, 20.6),
            (101, 18.6), (103, 20.2), (105, 21.2), (107, 19.7), (109, 20.4), (111, 19.0), (113, 20.9),
            (115, 20.1), (117, 19.4), (119, 21.0), (121, 19.8), (123, 20.5), (125, 18.9), (127, 20.2),
            (129, 21.3), (131, 19.6), (133, 20.3), (135, 19.1), (137, 20.7), (139, 19.9), (141, 21.1),
            (143, 20.4), (145, 19.3), (147, 20.6), (149, 19.8), (151, 20.2), (153, 19.0), (155, 20.5),
            (157, 21.0), (159, 19.7), (161, 20.1), (163, 19.4), (165, 20.7), (167, 19.9), (169, 20.3),
            (171, 20.9), (173, 19.5), (175, 20.0), (177, 19.3), (179, 20.6), (181, 20.1), (183, 19.6),
            (185, 21.0), (187, 20.4), (189, 19.2), (191, 20.0), (193, 20.7), (195, 19.5), (197, 20.2),
            (199, 21.1),
            (6, 19.5), (8, 20.8), (10, 20.3), (12, 19.3), (14, 20.9), (16, 19.8), (18, 20.5), (20, 19.0),
            (22, 20.1), (24, 21.3), (26, 19.7), (28, 20.3), (30, 18.9), (32, 20.8), (34, 20.0), (36, 21.2),
            (38, 19.6), (40, 20.4), (42, 18.9), (44, 21.0), (46, 19.9), (48, 20.4), (50, 18.7), (52, 20.0),
            (54, 21.3), (56, 19.2), (58, 20.7), (60, 20.0), (62, 21.2), (64, 19.6), (66, 20.0), (68, 18.9),
            (70, 21.0), (72, 19.8), (74, 20.0), (76, 18.8), (78, 20.2), (80, 21.6), (82, 19.4), (84, 20.3),
            (86, 19.1), (88, 21.1), (90, 19.9), (92, 20.6), (94, 18.9), (96, 20.1), (98, 21.3), (100, 19.4),
            (102, 20.8), (104, 19.8), (106, 18.7), (108, 20.6), (110, 21.0), (112, 19.9), (114, 18.8),
            (116, 20.4), (118, 21.2), (120, 19.6), (122, 20.0), (124, 21.0), (126, 19.3), (128, 20.6),
            (130, 19.9), (132, 21.2), (134, 20.0), (136, 19.5), (138, 20.9), (140, 19.2), (142, 20.1),
            (144, 20.8), (146, 19.6), (148, 20.4), (150, 19.3), (152, 20.6), (154, 20.0), (156, 21.0),
            (158, 19.4), (160, 20.3), (162, 20.7), (164, 19.3), (166, 20.2), (168, 20.9), (170, 19.5),
            (172, 19.8), (174, 20.5), (176, 19.9), (178, 20.2), (180, 19.6),
            (20.5, 19.6), (23.5, 20.7), (26.5, 19.4), (29.5, 20.5), (32.5, 21.0), (35.5, 19.5), (38.5, 20.9),
            (41.5, 19.5), (44.5, 21.0), (47.5, 19.0), (50.5, 20.8), (53.5, 19.3), (56.5, 21.3), (59.5, 19.0),
            (62.5, 20.9), (65.5, 18.6), (68.5, 21.0), (71.5, 19.3), (74.5, 20.8), (77.5, 18.9), (80.5, 21.2),
            (83.5, 19.1), (86.5, 20.9), (89.5, 18.5), (92.5, 21.1), (95.5, 19.0), (98.5, 21.4), (101.5, 18.9),
            (104.5, 20.9), (107.5, 18.5), (110.5, 21.4), (113.5, 19.2), (116.5, 20.9), (119.5, 18.8),
            (122.5, 21.5), (125.5, 19.1), (128.5, 20.9), (131.5, 18.6), (134.5, 21.2), (137.5, 19.0),
            (2.5, 20.1), (4, 19.8), (5.5, 20.4), (7, 20.0), (8.5, 19.6), (10, 20.6), (11.5, 20.2), (13, 19.9),
            (14.5, 20.5), (16, 19.5), (17.5, 20.2), (19, 19.9), (20.5, 20.6), (22, 19.7), (23.5, 20.3),
            (25, 19.9), (26.5, 20.5), (28, 19.6), (29.5, 20.2), (31, 19.8), (32.5, 20.6), (34, 19.5),
            (35.5, 20.1), (37, 19.8), (38.5, 20.5), (40, 19.4), (41.5, 20.3), (43, 19.7), (44.5, 20.6),
            (46, 19.5), (47.5, 20.4), (49, 19.6), (50.5, 20.1), (52, 19.4), (53.5, 20.7), (55, 19.8),
            (56.5, 20.4), (58, 19.6), (59.5, 20.8), (61, 19.5), (62.5, 20.3), (64, 19.9), (65.5, 20.6),
            (67, 19.4), (68.5, 20.2), (70, 19.7), (71.5, 20.7), (73, 19.5), (74.5, 20.0), (76, 19.4),
            (77.5, 20.6), (79, 19.8), (80.5, 20.3), (82, 19.5), (83.5, 20.6), (85, 19.7), (86.5, 20.3),
            (88, 19.5), (89.5, 20.5), (91, 19.8), (92.5, 20.2), (94, 19.4), (95.5, 20.6), (97, 19.7),
            (98.5, 20.3), (100, 19.6), (101.5, 20.4), (103, 19.8), (104.5, 20.2), (106, 19.5), (107.5, 20.6),
            (109, 19.7), (110.5, 20.3), (112, 19.6), (113.5, 20.4), (115, 19.8), (116.5, 20.2), (118, 19.5),
            (119.5, 20.6), (121, 19.9), (122.5, 20.3), (124, 19.6), (125.5, 20.5), (127, 19.8), (128.5, 20.2),
            (130, 19.5), (131.5, 20.5), (133, 19.9), (134.5, 20.3), (136, 19.6), (137.5, 20.4), (139, 19.9),
            (142, 20.2), (145, 19.7), (148, 20.4), (151, 19.8), (154, 20.3), (157, 19.6), (160, 20.2),
            (163, 19.9), (166, 20.5), (169, 19.8), (172, 20.3), (175, 19.7)]
BR_SPARSE = [(29, 22.5), (46.6, 22.4), (57.2, 22.0), (62.4, 22.3), (73.9, 23.2), (117, 22.7),
             (75.4, 16.97), (104.8, 17.0), (121.5, 17.55), (107.8, 17.68), (110.9, 17.95),
             (95.7, 17.68), (97.2, 17.9), (98.7, 18.4), (79.6, 18.4), (82, 18.4), (58.4, 18.1),
             (60.3, 18.3), (64.5, 18.4), (68.4, 18.56), (71.5, 18.7), (47.2, 18.4), (51.8, 18.6),
             (19.1, 18.9), (14.8, 19.1), (144.2, 18.2), (136.6, 18.4), (124.5, 18.7), (168.4, 18.6),
             (157.8, 18.8), (176, 19.0), (244.8, 18.0), (229.6, 18.75), (152.7, 21.8),
             (262, 21.5), (265, 22.3), (268, 22.5), (270.5, 20.7), (271, 22.05), (272, 21.0),
             (275, 21.15), (275.7, 20.2), (280.2, 19.4), (284.8, 20.0), (289.3, 18.8), (291.4, 19.2),
             (296.9, 20.0), (300.5, 19.24), (307.5, 19.98), (308.1, 19.16), (323.6, 22.52), (341.7, 22.1)]

R_RANGE = [0, 346]
R_TICKS = [50, 100, 150, 200, 250, 300]
SN_RANGE = [11, 32]
SN_TICKS = [15, 20, 25, 30]
AREA_LOG_RANGE = [0.30103, 3]   # 2 .. 1000
AREA_TICKS = [10, 100]
AREA_MINOR = [2, 3, 4, 5, 6, 7, 8, 9, 20, 30, 40, 50, 60, 70, 80, 90,
              200, 300, 400, 500, 600, 700, 800, 900]

FONT = "Liberation Sans, Arial, Helvetica, sans-serif"
INK = "#1a1a1a"
FRAME = "#333333"
GREY = "#8c8c8c"


def levels_to_xy(levels, radii):
    xs, ys = [], []
    for level, rs in zip(levels, radii):
        xs += rs
        ys += [level] * len(rs)
    return xs, ys


def unzip(*groups):
    xs, ys = [], []
    for g in groups:
        xs += [p[0] for p in g]
        ys += [p[1] for p in g]
    return xs, ys


def points(x, y):
    return go.Scatter(x=x, y=y, mode="markers", showlegend=False, hoverinfo="skip",
                      marker=dict(symbol="diamond-open", size=4, color=INK,
                                  line=dict(width=1, color=INK)))


def fit_line(x, y):
    return go.Scatter(x=x, y=y, mode="lines", showlegend=False, hoverinfo="skip",
                      line=dict(color=GREY, width=1.6, shape="spline", smoothing=0.6))


def add_plot_data(fig):
    # top-left
    x, y = levels_to_xy(TL_LEVELS, [TL_R_AT_4, TL_R_AT_8, TL_R_AT_12, TL_R_AT_16, TL_R_AT_32,
                                    TL_R_AT_48, TL_R_AT_64, TL_R_AT_128, TL_R_AT_192, TL_R_AT_256])
    fig.add_trace(points(x + TL_ODD_R, y + TL_ODD_A), row=1, col=1)
    fig.add_trace(fit_line(TL_FIT_R, TL_FIT_A), row=1, col=1)

    # top-right
    x, y = levels_to_xy(TR_LEVELS, [TR_R_AT_5, TR_R_AT_6, TR_R_AT_7, TR_R_AT_8, TR_R_AT_9,
                                    TR_R_AT_10, TR_R_AT_11, TR_R_AT_12])
    bx, by = unzip(TR_BAND, TR_CORE, TR_SPARSE)
    fig.add_trace(points(x + bx, y + by), row=1, col=2)
    fig.add_trace(fit_line(TR_FIT_R, TR_FIT_A), row=1, col=2)

    # bottom-left
    x, y = unzip(BL_BAND_A, BL_BAND_B_WIDE, BL_BAND_B_EDGE, BL_BAND_F, BL_SPARSE)
    fig.add_trace(points(x, y), row=2, col=1)
    fig.add_hline(y=BL_MEAN, line=dict(color=GREY, width=1.6), row=2, col=1)
    for lim in BL_LIMITS:
        fig.add_hline(y=lim, line=dict(color=GREY, width=1.6, dash="10px,14px"), row=2, col=1)

    # bottom-right
    x, y = unzip(BR_CORE, BR_EXTRA, BR_SPARSE)
    fig.add_trace(points(x, y), row=2, col=2)
    fig.add_hline(y=BR_MEAN, line=dict(color=GREY, width=1.6), row=2, col=2)
    for lim in BR_LIMITS:
        fig.add_hline(y=lim, line=dict(color=GREY, width=1.6, dash="10px,14px"), row=2, col=2)


def format_plot(fig):
    tick_font = dict(family=FONT, size=19, color=INK)
    axis_common = dict(showline=True, linecolor=FRAME, linewidth=1, mirror="ticks",
                       ticks="inside", tickcolor=FRAME, tickwidth=1,
                       showgrid=False, zeroline=False, tickfont=tick_font)

    fig.update_xaxes(range=R_RANGE, tickvals=R_TICKS, ticklen=6, ticklabelstandoff=12,
                     minor=dict(ticks="inside", tick0=0, dtick=10, ticklen=3, tickcolor=FRAME),
                     **axis_common)
    fig.update_xaxes(showticklabels=False, row=1)

    fig.update_yaxes(type="log", range=AREA_LOG_RANGE, tickvals=AREA_TICKS, ticklen=7,
                     ticklabelstandoff=8,
                     minor=dict(ticks="inside", tickvals=AREA_MINOR, ticklen=4, tickcolor=FRAME),
                     row=1, **axis_common)
    fig.update_yaxes(range=SN_RANGE, tickvals=SN_TICKS, ticklen=7, ticklabelstandoff=8,
                     minor=dict(ticks="inside", tick0=0, dtick=1, ticklen=4, tickcolor=FRAME),
                     row=2, **axis_common)
    fig.update_yaxes(showticklabels=False, col=2)

    title_font = dict(family=FONT, size=19, color=INK)
    titles = [
        ("Area (pixel<sup>2</sup>)", -0.0799, 0.758, -90),
        ("S/N", -0.0773, 0.2476, -90),
        ("Radius (pixel)", 0.2497, -0.113, 0),
        ("radius (pixel)", 0.7497, -0.113, 0),
    ]
    for text, x, y, ang in titles:
        fig.add_annotation(text=text, xref="paper", yref="paper", x=x, y=y, textangle=ang,
                           showarrow=False, xanchor="center", yanchor="middle", font=title_font)
    # the top decade label sits just below the frame corner
    fig.add_annotation(text="1000", xref="paper", yref="paper", x=-0.0118, y=0.9825,
                       showarrow=False, xanchor="right", yanchor="middle", font=tick_font)

    fig.update_layout(width=954, height=596, paper_bgcolor="white", plot_bgcolor="white",
                      margin=dict(l=96, r=95, t=11, b=72), font=dict(family=FONT, color=INK),
                      showlegend=False)


fig = make_subplots(rows=2, cols=2, horizontal_spacing=0, vertical_spacing=0)
add_plot_data(fig)
format_plot(fig)
fig.write_html("out.html", config={"displayModeBar": False},
               post_script="document.body.style.margin = '0';")
